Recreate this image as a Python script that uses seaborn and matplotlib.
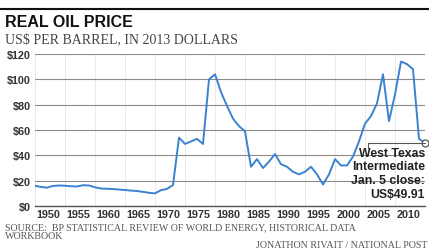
import numpy as np
import pandas as pd
import matplotlib
matplotlib.use('Agg')
import matplotlib.pyplot as plt
import matplotlib.transforms as mtrans
import matplotlib.font_manager as fm
import seaborn as sns

# annual real oil price, US$ per barrel in 2013 dollars
years = list(range(1950, 2015)) + [2015.01]
prices = [16.0, 15.0, 14.5, 15.8, 16.2, 16.0, 15.6, 15.4, 16.4, 16.2,
          14.8, 13.8, 13.6, 13.4, 13.0, 12.6, 12.2, 11.8, 11.2, 10.4,
          10.0, 12.5, 13.5, 16.5, 54.0, 49.0, 51.0, 53.0, 49.0, 100.0,
          104.0, 90.0, 79.0, 69.0, 63.0, 59.0, 31.0, 37.0, 30.0, 35.0,
          41.0, 33.0, 31.0, 27.0, 25.0, 27.0, 31.0, 25.0, 17.0, 25.0,
          37.0, 32.0, 32.0, 39.0, 51.0, 65.0, 71.0, 81.0, 104.0, 67.0,
          88.0, 114.0, 112.0, 108.0, 53.0, 49.91]
major_years = list(range(1950, 2015, 5))
y_ticks = [0, 20, 40, 60, 80, 100, 120]
y_labels = ['$0', '$20', '$40', '$60', '$80', '$100', '$120']

df = pd.DataFrame({'year': years, 'price': prices})

sns.set_style('white')

# condensed font if we have one, else Liberation Sans (Arial-like)
names = {f.name for f in fm.fontManager.ttflist}
narrow = ['Liberation Sans Narrow'] if 'Liberation Sans Narrow' in names else ['Liberation Sans', 'DejaVu Sans']
serif = ['Liberation Serif', 'DejaVu Serif']

fig = plt.figure(figsize=(4.29, 2.53), dpi=100)
ax = fig.add_axes([35 / 429, 46 / 253, 390 / 429, 152 / 253])

sns.lineplot(data=df, x='year', y='price', ax=ax, color='#3b82d0', linewidth=1.4)

# end point marker and annotation
last_x, last_y = years[-1], prices[-1]
ax.plot([last_x], [last_y], marker='o', ms=5, mfc='white', mec='#555555', mew=0.9, clip_on=False)
ax.plot([last_x, last_x - 9.5, last_x - 9.5], [last_y, last_y, last_y - 4], color='#555555', lw=0.8, clip_on=False)
ax.text(last_x, last_y - 3, 'West Texas\nIntermediate\nJan. 5 close:\nUS$49.91',
        ha='right', va='top', fontsize=8.8, fontweight='bold', family=narrow,
        color='#222222', linespacing=1.2)

ax.set_xlim(1950, 2015)
ax.set_ylim(0, 120)
ax.set_yticks(y_ticks, y_labels)
ax.set_xticks(major_years, [str(y) for y in major_years])
ax.set_xticks(range(1950, 2016), minor=True)
ax.set_xlabel('')
ax.set_ylabel('')

for s in ['top', 'right', 'left']:
    ax.spines[s].set_visible(False)
ax.spines['bottom'].set_color('#555555')
ax.spines['bottom'].set_linewidth(1.0)

ax.grid(axis='y', color='#8f8a84', linewidth=0.8)
ax.grid(axis='x', color='#e6e6e6', linewidth=0.6)
ax.set_axisbelow(True)

ax.tick_params(axis='y', length=0, pad=3, labelsize=7.8, labelcolor='#333333')
ax.tick_params(axis='x', which='major', length=9, width=0.8, color='#555555',
               direction='out', pad=-6.8, labelsize=7.8, labelcolor='#333333')
ax.tick_params(axis='x', which='minor', length=3, width=0.7, color='#555555', direction='out')

offset = mtrans.ScaledTranslation(1.5 / 100, 0, fig.dpi_scale_trans)
for lab in ax.get_xticklabels():
    lab.set_ha('left')
    lab.set_family(narrow)
    lab.set_fontweight('bold')
    lab.set_transform(lab.get_transform() + offset)
for lab in ax.get_yticklabels():
    lab.set_family(narrow)
    lab.set_fontweight('bold')

# header and footer
fig.add_artist(plt.Line2D([0, 1], [1 - 10 / 253, 1 - 10 / 253], color='#111111', lw=1.5))
fig.text(5 / 429, 1 - 27 / 253, 'REAL OIL PRICE', fontsize=11.5, fontweight='bold',
         family=['Liberation Sans', 'DejaVu Sans'], color='#111111')
fig.text(5 / 429, 1 - 43 / 253, 'US$ PER BARREL, IN 2013 DOLLARS', fontsize=10,
         family=serif, color='#444444')
fig.text(5 / 429, 1 - 239 / 253, 'SOURCE:  BP STATISTICAL REVIEW OF WORLD ENERGY, HISTORICAL DATA\nWORKBOOK',
         fontsize=7.2, family=serif, color='#555555', linespacing=0.95)
fig.text(1 - 2 / 429, 1 - 248 / 253, 'JONATHON RIVAIT / NATIONAL POST', ha='right',
         fontsize=7.2, family=serif, color='#555555')

fig.savefig('out.png', dpi=100)
